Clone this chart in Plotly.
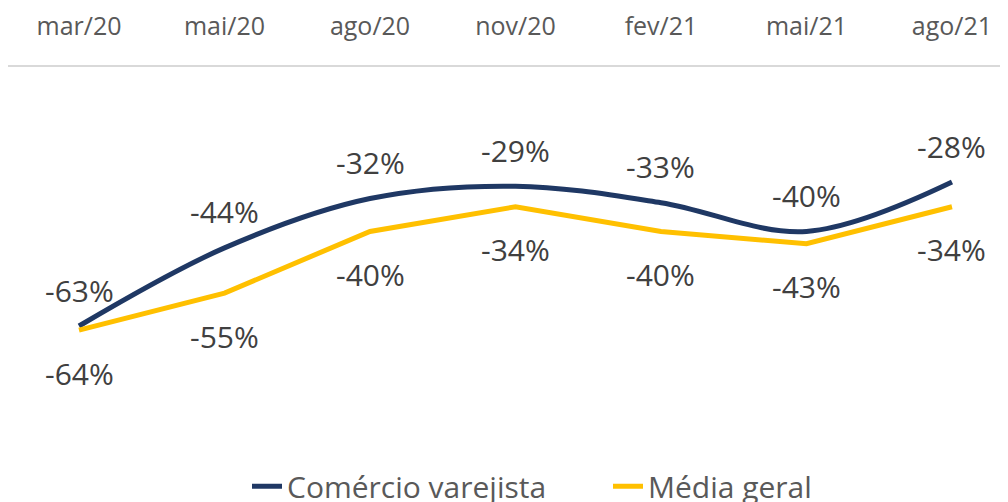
import plotly.graph_objects as go

categories = ["mar/20", "mai/20", "ago/20", "nov/20", "fev/21", "mai/21", "ago/21"]
comercio = [-63, -44, -32, -29, -33, -40, -28]
media = [-64, -55, -40, -34, -40, -43, -34]

NAVY = "#1f3864"
YELLOW = "#ffc000"
FONT = "Open Sans"

fig = go.Figure()
fig.add_trace(go.Scatter(
    x=categories, y=comercio, mode="lines", name="Comércio varejista",
    line=dict(color=NAVY, width=5, shape="spline", smoothing=1.0),
))
fig.add_trace(go.Scatter(
    x=categories, y=media, mode="lines", name="Média geral",
    line=dict(color=YELLOW, width=5),
))

for c, v in zip(categories, comercio):
    fig.add_annotation(x=c, y=v, text=f"{v}%", showarrow=False, yshift=36,
                       font=dict(family=FONT, size=30, color="#404040"))
for c, v in zip(categories, media):
    fig.add_annotation(x=c, y=v, text=f"{v}%", showarrow=False, yshift=-43,
                       font=dict(family=FONT, size=30, color="#404040"))

fig.update_layout(
    width=1000, height=494,
    margin=dict(l=0, r=0, t=59, b=65),
    paper_bgcolor="white", plot_bgcolor="white",
    font=dict(family=FONT, color="#595959"),
    xaxis=dict(
        type="category", side="top", range=[-0.488, 6.385],
        showline=True, linecolor="#d9d9d9", linewidth=2,
        showgrid=False, zeroline=False, ticks="",
        ticklabelstandoff=20, automargin=False,
        tickfont=dict(family=FONT, size=25, color="#595959"),
    ),
    yaxis=dict(range=[-90, 0], visible=False, showgrid=False, zeroline=False,
               automargin=False),
    showlegend=True,
    legend=dict(
        orientation="h", yref="container", y=0.032, yanchor="middle",
        x=0.60, xanchor="center",
        font=dict(family=FONT, size=30, color="#595959"),
        entrywidth=316, entrywidthmode="pixels",
    ),
)

fig.write_html("out.html")
